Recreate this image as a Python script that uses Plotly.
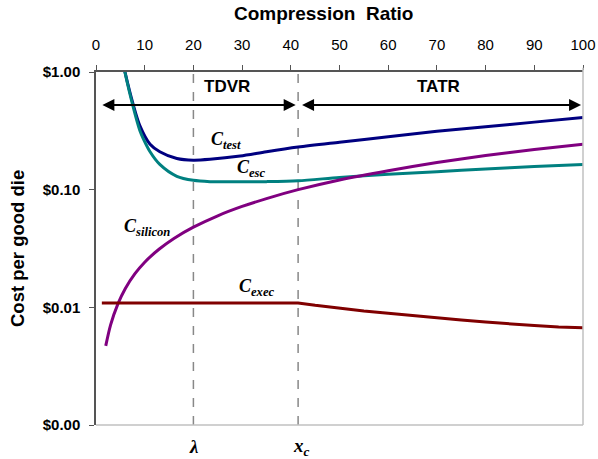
import plotly.graph_objects as go
import math

# ---- data ----
x_ticks = [0, 10, 20, 30, 40, 50, 60, 70, 80, 90, 100]
y_tickvals = [1.0, 0.1, 0.01, 0.001]
y_ticktext = ["$1.00", "$0.10", "$0.01", "$0.00"]

test_x = [5.0, 5.95, 7.66, 9.0, 11.1, 13.1, 16.6, 20, 23.4, 29.6, 35, 41.5, 50, 60, 70, 80, 90, 100]
test_y = [1.55, 1.0, 0.525, 0.35, 0.243, 0.21, 0.184, 0.178, 0.181, 0.193, 0.210, 0.230,
          0.253, 0.282, 0.313, 0.343, 0.375, 0.41]

esc_x = [5.0, 5.95, 7.66, 9.0, 9.7, 11.1, 13.1, 16.6, 20, 23.4, 29.6, 35, 41.5, 50, 60, 70, 80, 90, 100]
esc_y = [1.54, 0.99, 0.50, 0.318, 0.272, 0.21, 0.164, 0.130, 0.120, 0.117, 0.1165, 0.117,
         0.119, 0.127, 0.135, 0.142, 0.150, 0.157, 0.164]

sil_x = [2, 3, 4.5, 6, 8, 10, 13, 16, 20, 25, 30, 35, 41.5, 50, 60, 70, 80, 90, 100]
sil_y = [0.0047, 0.0071, 0.0107, 0.0144, 0.0193, 0.0242, 0.0313, 0.0385, 0.048, 0.060, 0.072, 0.084,
         0.100, 0.121, 0.145, 0.170, 0.195, 0.219, 0.243]

exec_x = [1.2, 41.5, 45, 50, 55, 60, 65, 70, 75, 80, 85, 90, 95, 100]
exec_y = [0.0109, 0.0109, 0.0104, 0.0098, 0.0093, 0.0089, 0.0085, 0.0081, 0.0078, 0.0075, 0.0072,
          0.0070, 0.0068, 0.0067]

lam_x = 20
xc_x = 41.5

fig = go.Figure()
fig.add_trace(go.Scatter(x=test_x, y=test_y, mode="lines", line=dict(color="#000080", width=3, shape="spline", smoothing=0.8)))
fig.add_trace(go.Scatter(x=esc_x, y=esc_y, mode="lines", line=dict(color="#008080", width=3, shape="spline", smoothing=0.8)))
fig.add_trace(go.Scatter(x=sil_x, y=sil_y, mode="lines", line=dict(color="#800080", width=3, shape="spline", smoothing=0.8)))
fig.add_trace(go.Scatter(x=exec_x, y=exec_y, mode="lines", line=dict(color="#800000", width=3)))

# dashed lines
for xv, top in [(lam_x, 1.0), (xc_x, 1.015)]:
    fig.add_shape(type="line", xref="x", yref="paper", x0=xv, x1=xv, y0=0, y1=top,
                  line=dict(color="#888888", width=1.5, dash="dash"), layer="below")

# right & bottom light borders
fig.add_shape(type="line", xref="paper", yref="paper", x0=1, x1=1, y0=0, y1=1.012,
              line=dict(color="#c0c0c0", width=1.5))
fig.add_shape(type="line", xref="paper", yref="paper", x0=0, x1=1, y0=0, y1=0,
              line=dict(color="#c0c0c0", width=1.5))

arrow_y = math.log10(0.525)
anns = []
for x0, x1 in [(1.0, 41.0), (42.0, 99.6)]:
    anns.append(dict(x=x1, y=arrow_y, ax=x0, ay=arrow_y, xref="x", yref="y", axref="x", ayref="y",
                     showarrow=True, arrowhead=2, arrowside="end+start", arrowsize=1.2,
                     arrowwidth=2, arrowcolor="black", text=""))
anns.append(dict(x=27, y=math.log10(0.76), xref="x", yref="y", text="<b>TDVR</b>", showarrow=False,
                 font=dict(family="Liberation Sans, Arial", size=17, color="black")))
anns.append(dict(x=70.3, y=math.log10(0.76), xref="x", yref="y", text="<b>TATR</b>", showarrow=False,
                 font=dict(family="Liberation Sans, Arial", size=17, color="black")))

serif = "Liberation Serif, Times New Roman, serif"
def clabel(x, y, sub):
    return dict(x=x, y=math.log10(y), xref="x", yref="y", showarrow=False, xanchor="left",
                text="<b><i>C<sub>%s</sub></i></b>" % sub,
                font=dict(family=serif, size=18, color="black"))
anns.append(clabel(23.2, 0.26, "test"))
anns.append(clabel(28.5, 0.152, "esc"))
anns.append(clabel(5.3, 0.048, "silicon"))
anns.append(clabel(29.0, 0.0148, "exec"))

anns.append(dict(x=lam_x, y=-0.025, xref="x", yref="paper", yanchor="top", showarrow=False,
                 text="<b><i>λ</i></b>", font=dict(family=serif, size=19, color="black")))
anns.append(dict(x=xc_x + 0.6, y=-0.022, xref="x", yref="paper", yanchor="top", showarrow=False,
                 text="<b><i>x<sub>c</sub></i></b>", font=dict(family=serif, size=19, color="black")))

# axis titles
anns.append(dict(x=(17.5 - 96) / 487, y=0.5, xref="paper", yref="paper", showarrow=False,
                 xanchor="center", yanchor="middle", textangle=-90,
                 text="<b>Cost per good die</b>",
                 font=dict(size=18.5, family="Liberation Sans, Arial", color="black")))
anns.append(dict(x=(323.5 - 96) / 487, y=1 + (72 - 14) / 353, xref="paper", yref="paper", showarrow=False,
                 xanchor="center", yanchor="middle",
                 text="<b>Compression&nbsp; Ratio</b>",
                 font=dict(size=19, family="Liberation Sans, Arial", color="black")))

fig.update_layout(
    width=598, height=459,
    margin=dict(l=96, r=15, t=72, b=34, autoexpand=False),
    paper_bgcolor="white", plot_bgcolor="white",
    showlegend=False,
    annotations=anns,
    font=dict(family="Liberation Sans, Arial", color="black"),
)
fig.update_xaxes(range=[0, 100], side="top", tickvals=x_ticks, ticks="outside", ticklen=5,
                 tickcolor="#555555", showline=True, linecolor="#555555", linewidth=1.5,
                 showgrid=False, zeroline=False, automargin=False, ticklabelstandoff=9,
                 tickfont=dict(size=15, family="Liberation Sans, Arial", color="black"),
                 tickprefix="<b>", ticksuffix="</b>")
fig.update_yaxes(type="log", range=[-3, 0], tickvals=y_tickvals, ticktext=["<b>%s</b>" % t for t in y_ticktext],
                 ticks="outside", ticklen=5, tickcolor="#555555", showline=True, linecolor="#555555",
                 linewidth=1.5, showgrid=False, zeroline=False, automargin=False, ticklabelstandoff=6,
                 tickfont=dict(size=15, family="Liberation Sans, Arial", color="black"))

fig.write_html("out.html")
